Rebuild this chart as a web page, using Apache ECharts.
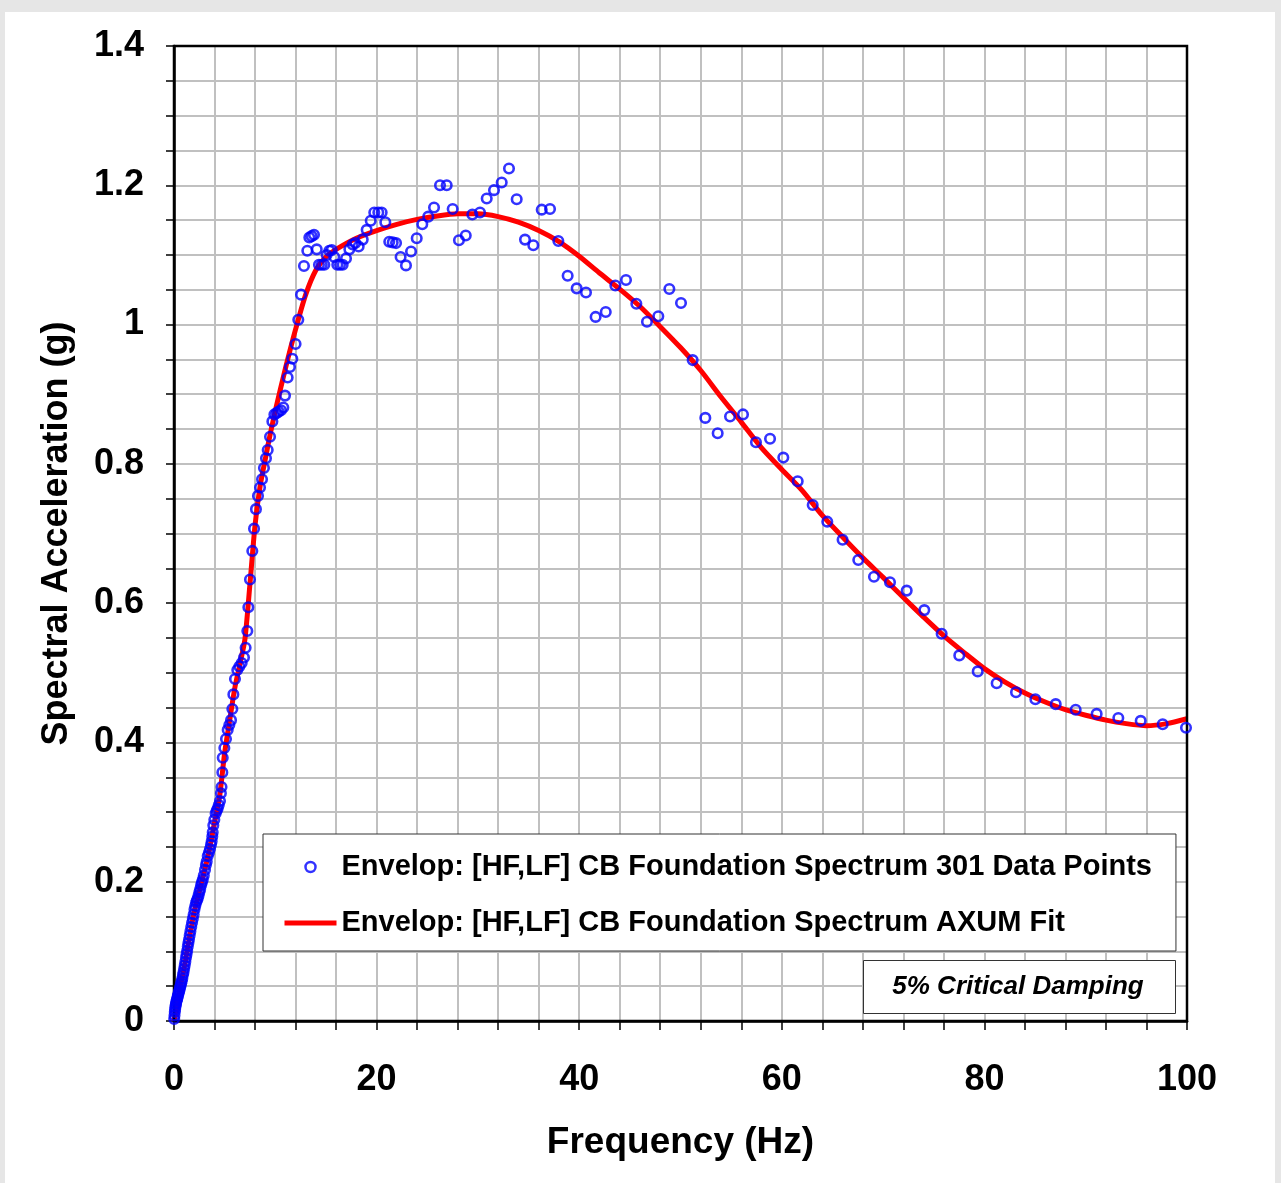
<!DOCTYPE html>
<html>
<head>
<meta charset="utf-8">
<title>Spectral Acceleration</title>
<script src="https://cdn.jsdelivr.net/npm/echarts@6/dist/echarts.min.js"></script>
<style>
    html, body {
        margin: 0;
        padding: 0;
        width: 1281px;
        height: 1183px;
        background: #e6e6e6;
        overflow: hidden;
    }
    .panel {
        position: absolute;
        left: 5px;
        top: 12px;
        width: 1270px;
        height: 1171px;
        background: #ffffff;
    }
    #chartbox {
        position: absolute;
        left: 0;
        top: 0;
        width: 1281px;
        height: 1183px;
    }
</style>
</head>
<body>
<div class="panel"></div>
<div id="chartbox"></div>
<script>
// measured points (Hz, g)
var pointFreq = [
    0.02, 0.05, 0.08, 0.11, 0.14, 0.17, 0.2, 0.24, 0.28, 0.32, 0.36, 0.4, 0.45, 0.5, 0.55, 0.6, 0.65, 0.7, 0.76, 0.82,
    0.88, 0.94, 1.0, 1.06, 1.12, 1.18, 1.24, 1.3, 1.36, 1.42, 1.48, 1.55, 1.62, 1.7, 1.78, 1.86, 1.94, 2.02, 2.1, 2.18,
    2.26, 2.34, 2.42, 2.5, 2.58, 2.67, 2.75, 2.84, 2.94, 3.06, 3.15, 3.23, 3.33, 3.45, 3.55, 3.65, 3.72, 3.78, 3.82, 3.88,
    3.98, 4.11, 4.21, 4.31, 4.42, 4.54, 4.63, 4.69, 4.77, 4.81, 4.97, 5.13, 5.3, 5.46, 5.63, 5.76, 5.86, 6.02, 6.25, 6.45,
    6.68, 6.91, 7.07, 7.24, 7.34, 7.5, 7.73, 7.9, 8.09, 8.29, 8.49, 8.69, 8.88, 9.08, 9.25, 9.48, 9.71, 9.91, 10.14, 10.33,
    10.56, 10.79, 10.96, 11.22, 11.45, 11.68, 12.0, 12.27, 12.54, 12.83, 13.16, 13.36, 13.59, 13.82, 14.09, 14.31, 14.58, 14.84, 15.07, 15.33,
    15.57, 15.82, 16.12, 16.39, 16.65, 16.98, 17.31, 17.64, 17.9, 18.23, 18.63, 19.02, 19.42, 19.77, 20.17, 20.5, 20.86, 21.25, 21.59, 21.92,
    22.37, 22.9, 23.4, 23.96, 24.51, 25.1, 25.67, 26.26, 26.92, 27.51, 28.13, 28.8, 29.45, 30.21, 30.87, 31.59, 32.35, 33.07, 33.83, 34.65,
    35.47, 36.3, 37.12, 37.94, 38.86, 39.75, 40.67, 41.62, 42.62, 43.57, 44.62, 45.64, 46.69, 47.81, 48.9, 50.05, 51.2, 52.45, 53.67, 54.89,
    56.17, 57.45, 58.84, 60.15, 61.57, 63.05, 64.49, 66.0, 67.55, 69.1, 70.68, 72.33, 74.07, 75.78, 77.52, 79.34, 81.21, 83.12, 85.03, 87.04,
    89.01, 91.08, 93.22, 95.43, 97.6, 99.9
];
var pointAccel = [
    0.003, 0.008, 0.013, 0.017, 0.020, 0.023, 0.025, 0.028, 0.030, 0.032, 0.035, 0.037, 0.040, 0.042, 0.045, 0.048, 0.051, 0.054, 0.057, 0.061,
    0.066, 0.070, 0.075, 0.080, 0.085, 0.091, 0.096, 0.101, 0.107, 0.112, 0.117, 0.123, 0.129, 0.135, 0.141, 0.147, 0.153, 0.160, 0.165, 0.170,
    0.173, 0.176, 0.180, 0.185, 0.189, 0.195, 0.199, 0.203, 0.209, 0.217, 0.224, 0.229, 0.237, 0.242, 0.247, 0.253, 0.258, 0.265, 0.271, 0.281,
    0.289, 0.298, 0.302, 0.305, 0.310, 0.316, 0.327, 0.336, 0.357, 0.378, 0.392, 0.405, 0.418, 0.425, 0.432, 0.448, 0.469, 0.491, 0.504, 0.509,
    0.514, 0.522, 0.536, 0.560, 0.594, 0.634, 0.675, 0.707, 0.735, 0.754, 0.766, 0.778, 0.794, 0.808, 0.820, 0.839, 0.861, 0.871, 0.873, 0.875,
    0.877, 0.881, 0.898, 0.924, 0.939, 0.951, 0.972, 1.007, 1.043, 1.084, 1.106, 1.125, 1.127, 1.129, 1.108, 1.086, 1.086, 1.086, 1.100, 1.106,
    1.107, 1.097, 1.086, 1.086, 1.086, 1.095, 1.108, 1.115, 1.117, 1.112, 1.122, 1.136, 1.149, 1.161, 1.161, 1.161, 1.147, 1.119, 1.118, 1.117,
    1.097, 1.085, 1.105, 1.124, 1.144, 1.155, 1.168, 1.200, 1.200, 1.166, 1.121, 1.128, 1.158, 1.161, 1.181, 1.193, 1.204, 1.224, 1.180, 1.122,
    1.114, 1.165, 1.166, 1.120, 1.070, 1.052, 1.046, 1.011, 1.018, 1.056, 1.064, 1.030, 1.004, 1.012, 1.051, 1.031, 0.949, 0.866, 0.844, 0.868,
    0.871, 0.831, 0.836, 0.809, 0.775, 0.741, 0.717, 0.691, 0.662, 0.638, 0.630, 0.618, 0.590, 0.556, 0.525, 0.502, 0.485, 0.472, 0.462, 0.455,
    0.447, 0.441, 0.435, 0.431, 0.426, 0.421
];

// AXUM fit curve (Hz, g)
var fitFreq = [
    0, 0.5, 1, 1.5, 2, 2.5, 3, 3.5, 4, 4.5, 5, 5.5, 6, 6.5, 7, 7.5, 8, 8.5, 9, 9.5,
    10, 11, 12, 13, 14, 15, 16, 18, 20, 22, 24, 26, 28, 30, 32, 34, 36, 38, 40, 42,
    44, 46, 48, 50, 52, 54, 56, 58, 60, 62, 64, 66, 68, 70, 72, 74, 76, 78, 80, 82,
    84, 86, 88, 90, 92, 94, 96, 98, 100
];
var fitAccel = [
    0, 0.041, 0.076, 0.118, 0.157, 0.186, 0.215, 0.246, 0.285, 0.322, 0.385, 0.432, 0.478, 0.512, 0.548, 0.628, 0.712, 0.768, 0.806, 0.843,
    0.876, 0.937, 0.993, 1.043, 1.078, 1.097, 1.108, 1.124, 1.135, 1.144, 1.151, 1.156, 1.159, 1.159, 1.155, 1.147, 1.135, 1.119, 1.098, 1.074,
    1.051, 1.026, 0.997, 0.967, 0.934, 0.896, 0.860, 0.823, 0.792, 0.762, 0.726, 0.695, 0.665, 0.637, 0.608, 0.580, 0.553, 0.529, 0.506, 0.487,
    0.471, 0.458, 0.447, 0.439, 0.432, 0.427, 0.424, 0.427, 0.434
];

var seriesNames = [
    "Envelop: [HF,LF] CB Foundation Spectrum 301 Data Points",
    "Envelop: [HF,LF] CB Foundation Spectrum AXUM Fit"
];
var dampingNote = "5% Critical Damping";
var xTitle = "Frequency (Hz)";
var yTitle = "Spectral Acceleration (g)";

var fontName = "'Liberation Sans', Arial, sans-serif";

var pointData = pointFreq.map(function (f, i) { return [f, pointAccel[i]]; });
var fitData = fitFreq.map(function (f, i) { return [f, fitAccel[i]]; });

var myChart = echarts.init(document.getElementById("chartbox"));
var option = {
    backgroundColor: "transparent",
    animation: false,
    textStyle: {
        fontFamily: fontName
    },
    grid: {
        left: 174,
        right: 94,
        top: 46,
        bottom: 162,
        show: true,
        borderColor: "#000000",
        borderWidth: 2.5,
        z: 3
    },
    legend: {
        orient: "vertical",
        left: 263,
        top: 834,
        padding: [17, 24, 12, 19],
        itemGap: 24,
        itemWidth: 52,
        itemHeight: 10,
        backgroundColor: "#ffffff",
        borderColor: "#333333",
        borderWidth: 1,
        borderRadius: 0,
        selectedMode: false,
        textStyle: {
            fontFamily: fontName,
            fontSize: 29,
            fontWeight: "bold",
            color: "#000000",
            lineHeight: 32
        },
        data: [
            {
                name: seriesNames[0],
                icon: "circle",
                itemStyle: { color: "rgba(0,0,0,0)", borderColor: "#0000ff", borderWidth: 2.5 }
            },
            {
                name: seriesNames[1],
                itemStyle: { opacity: 0 },
                lineStyle: { color: "#ff0000", width: 5 }
            }
        ]
    },
    xAxis: {
        type: "value",
        min: 0,
        max: 100,
        interval: 4,
        name: xTitle,
        nameLocation: "middle",
        nameGap: 103,
        nameTextStyle: {
            fontFamily: fontName,
            fontSize: 37,
            fontWeight: "bold",
            color: "#000000"
        },
        axisLine: {
            show: true,
            lineStyle: { color: "#000000", width: 2.5 }
        },
        axisTick: {
            show: true,
            length: 9,
            lineStyle: { color: "#000000", width: 1.5 }
        },
        axisLabel: {
            margin: 41,
            fontFamily: fontName,
            fontSize: 36,
            fontWeight: "bold",
            color: "#000000",
            showMinLabel: true,
            showMaxLabel: true,
            formatter: function (v) {
                return Math.round(v) % 20 === 0 ? String(Math.round(v)) : "";
            }
        },
        splitLine: {
            show: true,
            lineStyle: { color: "#c0c0c0", width: 2 }
        }
    },
    yAxis: {
        type: "value",
        min: 0,
        max: 1.4,
        interval: 0.05,
        name: yTitle,
        nameLocation: "middle",
        nameGap: 99,
        nameTextStyle: {
            fontFamily: fontName,
            fontSize: 36,
            fontWeight: "bold",
            color: "#000000"
        },
        axisLine: {
            show: true,
            lineStyle: { color: "#000000", width: 2.5 }
        },
        axisTick: {
            show: true,
            length: 8,
            lineStyle: { color: "#000000", width: 1.5 }
        },
        axisLabel: {
            margin: 30,
            fontFamily: fontName,
            fontSize: 36,
            fontWeight: "bold",
            color: "#000000",
            showMinLabel: true,
            showMaxLabel: true,
            formatter: function (v) {
                var r = Math.round(v * 20);
                return r % 4 === 0 ? String(+(r / 20).toFixed(1)) : "";
            }
        },
        splitLine: {
            show: true,
            lineStyle: { color: "#c0c0c0", width: 2 }
        }
    },
    graphic: [
        {
            type: "rect",
            left: 863,
            top: 960,
            z: 100,
            shape: { x: 0, y: 0, width: 312, height: 53 },
            style: { fill: "#ffffff", stroke: "#333333", lineWidth: 1 }
        },
        {
            type: "text",
            x: 1018,
            y: 987,
            z: 101,
            style: {
                text: dampingNote,
                font: "italic bold 26px " + fontName,
                fill: "#000000",
                align: "center",
                verticalAlign: "middle"
            }
        }
    ],
    series: [
        {
            name: seriesNames[1],
            type: "line",
            data: fitData,
            smooth: 0.25,
            showSymbol: false,
            symbol: "none",
            z: 2,
            lineStyle: { color: "#ff0000", width: 5 },
            itemStyle: { color: "#ff0000" }
        },
        {
            name: seriesNames[0],
            type: "scatter",
            data: pointData,
            symbol: "circle",
            symbolSize: 9.5,
            z: 3,
            itemStyle: {
                color: "rgba(0,0,0,0)",
                borderColor: "#0000ff",
                borderWidth: 2.6
            }
        }
    ]
};
option && myChart.setOption(option);
</script>
</body>
</html>
